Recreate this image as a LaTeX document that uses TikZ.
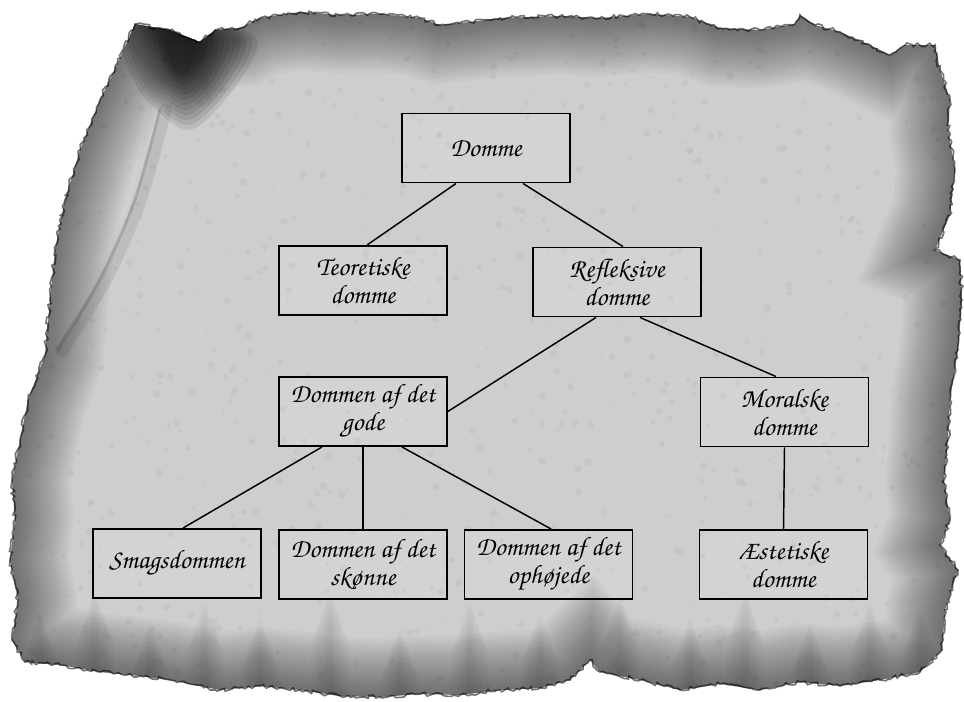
\documentclass[tikz,border=0pt]{standalone}
\usepackage[T1,TU]{fontenc}
\usetikzlibrary{decorations.pathmorphing}

\newcommand\chancery{\fontencoding{T1}\fontfamily{pzc}\fontseries{mb}\fontshape{it}\fontsize{20}{21}\selectfont}
\definecolor{parch}{RGB}{206,206,206}

% outline of the torn sheet
\def\parchment{(135,24) -- (170,30) -- (200,42) -- (215,30) -- (240,28) -- (260,18) -- (300,12) -- (340,15) -- (380,14) -- (420,18) -- (440,25) -- (470,22) -- (500,18) -- (560,16) -- (600,18) -- (650,14) -- (690,17) -- (720,28) -- (760,30) -- (795,24) -- (800,15) -- (815,25) -- (840,32) -- (870,45) -- (890,55) -- (905,45) -- (935,45) -- (940,70) -- (950,100) -- (948,130) -- (955,170) -- (950,215) -- (935,250) -- (960,260) -- (962,300) -- (958,350) -- (950,400) -- (948,440) -- (944,480) -- (950,520) -- (940,545) -- (958,570) -- (945,610) -- (942,650) -- (920,672) -- (880,680) -- (840,686) -- (800,682) -- (760,690) -- (720,684) -- (680,690) -- (640,680) -- (600,672) -- (590,660) -- (570,680) -- (540,688) -- (500,690) -- (460,695) -- (420,694) -- (380,697) -- (340,696) -- (300,690) -- (260,686) -- (220,690) -- (190,684) -- (170,680) -- (140,676) -- (100,672) -- (60,665) -- (25,662) -- (12,640) -- (18,600) -- (10,560) -- (15,520) -- (12,480) -- (20,440) -- (28,400) -- (45,355) -- (50,300) -- (55,250) -- (65,200) -- (80,150) -- (100,100) -- (120,58) -- cycle}

\tikzset{
  dombox/.style={draw=black, line width=1.2pt, fill=white, fill opacity=0.12, text opacity=1,
    minimum width=126pt, minimum height=52pt, inner sep=0pt, align=center, font=\chancery},
  link/.style={line width=1.1pt, black}
}

\begin{document}
\begin{tikzpicture}[x=0.75pt,y=0.75pt,yscale=-1]
\useasboundingbox (0,0) rectangle (964,701);

%Paper
\begin{scope}
\clip \parchment;
\fill[parch] (0,0) rectangle (964,701);
\pgfmathsetseed{42}
\foreach \i in {1,...,900}
  \fill[black, opacity=0.035] ({rnd*964},{rnd*701}) circle ({1+rnd*3});
\foreach \i in {1,...,500}
  \fill[white, opacity=0.06] ({rnd*964},{rnd*701}) circle ({1+rnd*3});
% streaks along the lower edge
\foreach \x/\y in {40/610,95/590,150/620,205/600,260/615,330/590,400/625,470/600,540/610,620/595,690/615,745/590,810/620,870/600,920/605}
  \foreach \w in {4,8,...,28}
    \draw[black, opacity=0.018, line width=\w pt, line cap=round] (\x,\y+2*\w) -- (\x,710);
% folded strip on the left
\fill[white, opacity=0.1] (120,58) -- (150,110) -- (130,200) -- (100,270) -- (65,345) -- (45,355) -- (55,250) -- (80,150) -- (100,100) -- cycle;
\draw[black, opacity=0.08, line width=10pt, line cap=round] plot[smooth] coordinates {(165,110) (140,200) (105,280) (62,350)};
\draw[black, opacity=0.12, line width=2pt, line cap=round] plot[smooth] coordinates {(160,110) (135,200) (100,280) (58,350)};
% dark stain at the corner
\foreach \s in {1.4,1.3,...,0.3}
  \fill[black, opacity=0.09] plot[smooth cycle] coordinates {({180-45*\s},{40-20*\s}) ({180+10*\s},{35-15*\s}) ({180+55*\s},{40}) ({180+35*\s},{60+25*\s}) ({180+5*\s},{60+50*\s}) ({180-30*\s},{60+20*\s})};
% darkening towards the edge
\foreach \w in {4,8,...,90}
  \draw[line width=\w pt, black, opacity=0.022] \parchment;
\end{scope}
\draw[black, opacity=0.55, line width=1.2pt, decorate, decoration={random steps, segment length=2.5pt, amplitude=1.5pt}] \parchment;

%Boxes
\node[dombox] (domme) at (486,148) {Domme};
\node[dombox] (teor) at (363,280.5) {Teoretiske\\domme};
\node[dombox] (refl) at (617,282) {Refleksive\\domme};
\node[dombox] (gode) at (363,411.5) {Dommen af det\\gode};
\node[dombox] (moral) at (784.5,412) {Moralske\\domme};
\node[dombox] (smag) at (177,563.5) {Smagsdommen};
\node[dombox] (skon) at (363,564.5) {Dommen af det\\sk\o nne};
\node[dombox] (ophoj) at (548.5,564.5) {Dommen af det\\oph\o jede};
\node[dombox] (aest) at (783.5,564.5) {\AE stetiske\\domme};

%Lines
\draw[link] ([xshift=-22.5pt]domme.south) -- ([xshift=3pt]teor.north);
\draw[link] ([xshift=27.75pt]domme.south) -- ([xshift=4.5pt]refl.north);
\draw[link] ([xshift=-15.75pt]refl.south) -- (gode.east);
\draw[link] ([xshift=17.25pt]refl.south) -- ([xshift=-6.4pt]moral.north);
\draw[link] ([xshift=-30.75pt]gode.south) -- ([xshift=4.5pt]smag.north);
\draw[link] (gode.south) -- (skon.north);
\draw[link] ([xshift=29.25pt]gode.south) -- ([xshift=2pt]ophoj.north);
\draw[link] (moral.south) -- (aest.north);
\end{tikzpicture}
\end{document}
